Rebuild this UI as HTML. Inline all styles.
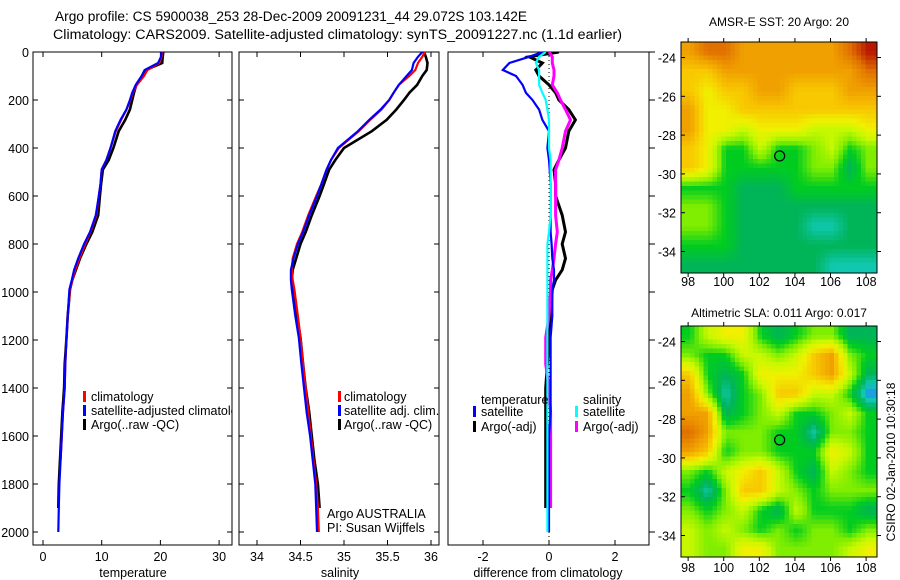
<!DOCTYPE html>
<html><head><meta charset="utf-8">
<style>
html,body{margin:0;padding:0;background:#fff;}
svg{display:block;font-family:"Liberation Sans",Arial,sans-serif;}
text{fill:#000;}
</style></head>
<body>
<svg id="fig" width="900" height="580" viewBox="0 0 900 580" xmlns="http://www.w3.org/2000/svg">
<defs>
<clipPath id="c1"><rect x="33" y="52" width="199" height="493"/></clipPath>
<clipPath id="c2"><rect x="239" y="52" width="200" height="493"/></clipPath>
<clipPath id="c3"><rect x="448" y="52" width="201" height="493"/></clipPath>
</defs>
<text x="55" y="21" font-size="13.5" textLength="472" lengthAdjust="spacingAndGlyphs">Argo profile: CS 5900038_253 28-Dec-2009 20091231_44 29.072S 103.142E</text>
<text x="53" y="39" font-size="13.5" textLength="569" lengthAdjust="spacingAndGlyphs">Climatology: CARS2009. Satellite-adjusted climatology: synTS_20091227.nc (1.1d earlier)</text>
<g id="layer"></g>
</svg>
<script>
// ---- data ----
const depths = [0,20,46,75,100,137,170,200,240,283,330,400,450,490,550,600,680,750,800,860,908,950,990,1100,1190,1300,1400,1500,1600,1700,1800,1900,2000];
const tempClim = [20.3,20.2,19.8,17.8,17.2,16.0,15.3,14.9,14.2,13.3,12.4,11.5,10.8,10.0,9.8,9.5,9.1,8.1,7.2,6.2,5.5,5.0,4.6,4.2,4.0,3.8,3.7,3.4,3.2,3.0,null,null,null];
const tempSat = [20.2,20.1,19.6,17.3,16.8,15.8,15.2,14.8,14.2,13.2,12.3,11.5,10.8,10.0,9.8,9.5,9.0,8.0,7.0,6.0,5.3,4.9,4.5,4.2,4.0,3.8,3.7,3.4,3.2,3.0,2.8,2.7,2.6];
const tempArgo = [20.5,20.4,20.3,17.5,16.9,15.9,15.5,15.2,14.8,14.0,12.9,12.0,11.2,10.2,9.9,9.7,9.4,8.4,7.4,6.3,5.6,5.0,4.6,4.2,4.0,3.7,3.6,3.3,3.1,2.9,2.7,2.6,null];
const salClim = [35.93,35.9,35.85,35.82,35.75,35.63,35.57,35.52,35.43,35.3,35.17,34.94,34.85,34.8,34.74,34.68,34.59,34.52,34.46,34.41,34.40,34.41,34.43,34.47,34.5,34.53,34.56,34.59,34.62,34.65,34.68,34.70,34.71];
const salSat = [35.9,35.85,35.8,35.78,35.72,35.63,35.57,35.52,35.42,35.29,35.16,34.93,34.85,34.8,34.74,34.69,34.6,34.53,34.47,34.42,34.39,34.39,34.4,34.44,34.48,34.51,34.54,34.57,34.61,34.64,34.67,34.68,34.69];
const salArgo = [35.92,35.94,35.96,35.95,35.9,35.84,35.75,35.69,35.6,35.49,35.32,35.0,34.9,34.83,34.77,34.72,34.63,34.56,34.5,34.45,34.41,34.4,34.42,34.46,34.5,34.53,34.56,34.6,34.63,34.66,34.70,34.72,null];
const dTempSat = [-0.2,-0.6,-1.2,-1.4,-1.0,-0.8,-0.7,-0.5,-0.3,-0.2,0,-0.05,0,0.02,0.05,0.05,0.05,0.05,0.08,0.1,0.15,0.15,0.1,0.1,0.05,0.05,0.05,0.05,0,0,0,0,0];
const dTempArgo = [0.3,-0.6,-0.2,-0.4,-0.3,0.0,0.2,0.3,0.6,0.8,0.6,0.5,0.3,0.15,0.2,0.2,0.4,0.5,0.4,0.5,0.4,0.2,0.1,0.05,0,-0.05,-0.1,-0.1,-0.1,-0.1,-0.1,-0.1,null];
const dSalSat = [-0.1,-0.3,-0.4,-0.3,-0.3,-0.3,-0.2,-0.1,-0.05,0,0,0,0.05,0.05,0.05,0.05,0.05,0,-0.05,-0.05,-0.05,-0.05,-0.05,-0.05,-0.05,-0.05,-0.05,-0.05,-0.05,-0.05,-0.05,-0.05,-0.05];
const dSalArgo = [0,0.1,0.1,0.15,0.15,0.1,0.25,0.35,0.5,0.65,0.5,0.4,0.3,0.2,0.2,0.2,0.2,0.25,0.2,0.15,0.1,0.05,0.05,0,-0.1,-0.1,0,0.05,0.05,0.05,0.05,0.05,null];
const depthTicks = [0,200,400,600,800,1000,1200,1400,1600,1800,2000];
const tempTicks = [0,10,20,30];
const salTicks = [34,34.5,35,35.5,36];
const diffTicks = [-2,0,2];
const latTicks = [-24,-26,-28,-30,-32,-34];
const lonTicks = [98,100,102,104,106,108];
const gridLon0 = 97.6, gridLat0 = -23.2;
const sstGrid = [
[8,9,9,8,8,8,8,8,8,9,10],
[7,7,8,8,8,8,8,8,8,8,9],
[7,6,7,7,8,8,7,7,7,8,8],
[8,6,6,7,7,7,7,7,7,7,7],
[8,6,6,5,6,6,6,5,5,5,6],
[7,6,3,3,5,3,3,4,5,3,4],
[7,6,3,3,3,3,3,4,4,2,4],
[3,3,3,2,2,2,3,3,3,3,3],
[4,4,3,2,2,2,2,2,2,2,2],
[4,4,3,2,2,2,2,1,1,2,2],
[3,3,3,2,2,2,2,2,2,2,2],
[2,2,2,2,2,2,2,2,1,1,1]];
const slaGrid = [
[3,5,6,6,3,2,3,4,4,2,2],
[4,3,3,5,5,4,5,7,8,4,3],
[7,3,2,3,6,6,6,7,8,5,2],
[8,4,1,3,4,7,7,5,5,3,0],
[8,8,2,3,4,5,3,3,4,5,3],
[9,8,4,4,4,3,3,1,4,4,3],
[8,7,3,4,4,3,3,3,6,5,3],
[4,3,5,6,7,5,3,2,5,4,3],
[3,1,4,7,7,5,4,3,4,4,4],
[4,3,4,5,3,2,5,3,3,3,2],
[5,4,5,4,3,4,3,4,4,3,4],
[5,4,4,6,6,4,4,4,4,5,6]];
const argoLon = 103.142, argoLat = -29.072;

// ---- helpers ----
const NS="http://www.w3.org/2000/svg";
const layer=document.getElementById('layer');
function mk(tag,attrs,parent){const e=document.createElementNS(NS,tag);for(const k in attrs)e.setAttribute(k,attrs[k]);(parent||layer).appendChild(e);return e;}
const Y=d=>52+d*0.24;
const xT=v=>43+v*5.87, xS=v=>257+(v-34)*87, xD=v=>549+v*33;
const palette=[[32,144,240],[16,200,176],[0,180,88],[0,204,32],[128,238,0],[200,248,0],[240,240,0],[248,200,0],[240,160,0],[224,112,0],[184,24,0]];
function colorOf(v){v=Math.max(0,Math.min(10,v));const i=Math.min(9,Math.floor(v)),f=v-i;const a=palette[i],b=palette[i+1];
  return 'rgb('+a.map((c,k)=>Math.round(c+(b[k]-c)*f)).join(',')+')';}

function profile(vals,xf,color,w,clip,name){
  let d='',pen=false;
  vals.forEach((v,i)=>{if(v===null){pen=false;return;}d+=(pen?'L':'M')+xf(v).toFixed(1)+','+Y(depths[i]).toFixed(1);pen=true;});
  const p=mk('path',{d:d,fill:'none',stroke:color,'stroke-width':w,'clip-path':'url(#'+clip+')'});
  
  
}
function frame(x0,x1,name){
  const r=mk('rect',{x:x0,y:52,width:x1-x0,height:493,fill:'none',stroke:'#000','stroke-width':1});
  
  
  depthTicks.forEach(t=>{mk('line',{x1:x0,x2:x0+5,y1:Y(t),y2:Y(t),stroke:'#000'});mk('line',{x1:x1,x2:x1-5,y1:Y(t),y2:Y(t),stroke:'#000'});});
}
function xticks(ticks,xf,labelFn,name){
  ticks.forEach(t=>{const x=xf(t);mk('line',{x1:x,x2:x,y1:545,y2:540,stroke:'#000'});mk('line',{x1:x,x2:x,y1:52,y2:57,stroke:'#000'});
    const tx=mk('text',{x:x,y:561,'font-size':12.5,'text-anchor':'middle'});tx.textContent=labelFn(t);
    
    });
}
function label(x,y,s,name,anchor,size){const t=mk('text',{x:x,y:y,'font-size':size||12.5,'text-anchor':anchor||'start'});t.textContent=s;
  
  return t;}
function legendBar(x,y,color,name){const r=mk('rect',{x:x,y:y-10,width:3,height:11,fill:color});
  
  }

// ---- panel 1 temperature ----
frame(33,232,'temperature-panel-frame');
depthTicks.forEach(t=>{label(29,Y(t)+5,String(t),'depth-tick-label','end',12.5);});
xticks(tempTicks,xT,t=>String(t),'temperature-tick-label');
profile(tempArgo,xT,'#000',2.6,'c1','temperature-argo-line');
profile(tempClim,xT,'#f00',2.2,'c1','temperature-climatology-line');
profile(tempSat,xT,'#00f',2.2,'c1','temperature-satellite-line');
label(133,577,'temperature','temperature-axis-title','middle',12.5);
const lg1=mk('g',{'clip-path':'url(#c1)'});
legendBar(83,401,'#f00','legend-swatch-climatology');
legendBar(83,415,'#00f','legend-swatch-satellite-adjusted');
legendBar(83,429,'#000','legend-swatch-argo');
[['climatology',401],['satellite-adjusted climatology',415],['Argo(..raw -QC)',429]].forEach(a=>{const t=mk('text',{x:91,y:a[1],'font-size':12.5},lg1);t.textContent=a[0];
  
  });

// ---- panel 2 salinity ----
frame(239,439,'salinity-panel-frame');
xticks(salTicks,xS,t=>String(t),'salinity-tick-label');
profile(salArgo,xS,'#000',2.6,'c2','salinity-argo-line');
profile(salClim,xS,'#f00',2.2,'c2','salinity-climatology-line');
profile(salSat,xS,'#00f',2.2,'c2','salinity-satellite-line');
label(340,577,'salinity','salinity-axis-title','middle',12.5);
legendBar(338,401,'#f00','legend-swatch-climatology');
legendBar(338,415,'#00f','legend-swatch-satellite');
legendBar(338,429,'#000','legend-swatch-argo');
label(344,401,'climatology','salinity-legend-entry');
label(344,415,'satellite adj. clim.','salinity-legend-entry');
label(344,429,'Argo(..raw -QC)','salinity-legend-entry');
label(327,518,'Argo AUSTRALIA','data-centre-label');
label(327,532,'PI: Susan Wijffels','pi-label');

// ---- panel 3 difference ----
const r3=mk('rect',{x:448,y:52,width:201,height:493,fill:'none',stroke:'#000'});


depthTicks.forEach(t=>{mk('line',{x1:649,x2:655,y1:Y(t),y2:Y(t),stroke:'#000'});});
diffTicks.forEach(t=>{const x=xD(t);mk('line',{x1:x,x2:x,y1:545,y2:540,stroke:'#000'});mk('line',{x1:x,x2:x,y1:52,y2:57,stroke:'#000'});
  label(x,561,String(t),'difference-tick-label','middle',12.5);});
const zl=mk('line',{x1:xD(0),x2:xD(0),y1:52,y2:545,stroke:'#000','stroke-dasharray':'1,3','stroke-width':1});


profile(dTempArgo,xD,'#000',3,'c3','diff-temperature-argo-line');
profile(dSalArgo,xD,'#f0f',3,'c3','diff-salinity-argo-line');
profile(dTempSat,xD,'#00f',2.2,'c3','diff-temperature-satellite-line');
profile(dSalSat,xD,'#0ff',2.2,'c3','diff-salinity-satellite-line');
label(548,577,'difference from climatology','difference-axis-title','middle',12.5);
label(481,404,'temperature','legend-group-temperature');
legendBar(473,416,'#00f','legend-swatch-temp-satellite');
legendBar(473,431,'#000','legend-swatch-temp-argo');
label(481,416,'satellite','legend-entry-temp-satellite');
label(481,431,'Argo(-adj)','legend-entry-temp-argo');
label(583,404,'salinity','legend-group-salinity');
legendBar(575,416,'#0ff','legend-swatch-sal-satellite');
legendBar(575,431,'#f0f','legend-swatch-sal-argo');
label(583,416,'satellite','legend-entry-sal-satellite');
label(583,431,'Argo(-adj)','legend-entry-sal-argo');

// ---- maps ----
function sample(grid,fi,fj){
  const R=grid.length,C=grid[0].length;
  fi=Math.max(0,Math.min(R-1,fi));fj=Math.max(0,Math.min(C-1,fj));
  const i0=Math.floor(fi),j0=Math.floor(fj),i1=Math.min(R-1,i0+1),j1=Math.min(C-1,j0+1),a=fi-i0,b=fj-j0;
  return grid[i0][j0]*(1-a)*(1-b)+grid[i0][j1]*(1-a)*b+grid[i1][j0]*a*(1-b)+grid[i1][j1]*a*b;
}
function map(grid,top,name,title,titleY,xlabY){
  const x0=681,w=196,h=231,pxLon=17.8,pxLat=19.4,step=4.5;
  const lx=v=>x0+(v-gridLon0)*pxLon, ly=v=>top+(gridLat0-v)*pxLat;
  const g=mk('g',{});
  
  
  for(let py=0;py<h;py+=step){for(let px=0;px<w;px+=step){
    const fj=(px+step/2)/pxLon-0.5, fi=(py+step/2)/pxLat-0.5;
    const v=sample(grid,fi,fj);
    const c=mk('rect',{x:(x0+px).toFixed(1),y:(top+py).toFixed(1),width:Math.min(step,w-px)+0.4,height:Math.min(step,h-py)+0.4,fill:colorOf(v)},g);
    
    
  }}
  const f=mk('rect',{x:x0,y:top,width:w,height:h,fill:'none',stroke:'#000'});
  
  
  latTicks.forEach(t=>{const y=ly(t);mk('line',{x1:x0,x2:x0+4,y1:y,y2:y,stroke:'#000'});mk('line',{x1:x0+w,x2:x0+w+4,y1:y,y2:y,stroke:'#000'});
    label(676,y+5,String(t),'latitude-tick-label','end',12.5);});
  lonTicks.forEach(t=>{const x=lx(t);mk('line',{x1:x,x2:x,y1:top,y2:top-4,stroke:'#000'});mk('line',{x1:x,x2:x,y1:top+h,y2:top+h+4,stroke:'#000'});
    label(x,xlabY,String(t),'longitude-tick-label','middle',12.5);});
  const m=mk('circle',{cx:lx(argoLon),cy:ly(argoLat),r:5,fill:'none',stroke:'#000','stroke-width':1.2});
  
  
  label(779,titleY,title,name+'-title','middle',12);
}
map(sstGrid,42,'sst-map','AMSR-E SST: 20 Argo: 20',26,286);
map(slaGrid,326,'sla-map','Altimetric SLA: 0.011 Argo: 0.017',317,572);
const side=label(0,0,'CSIRO 02-Jan-2010 10:30:18','timestamp-label','middle',12);
side.setAttribute('transform','translate(895,462) rotate(-90)');
</script>
</body></html>
